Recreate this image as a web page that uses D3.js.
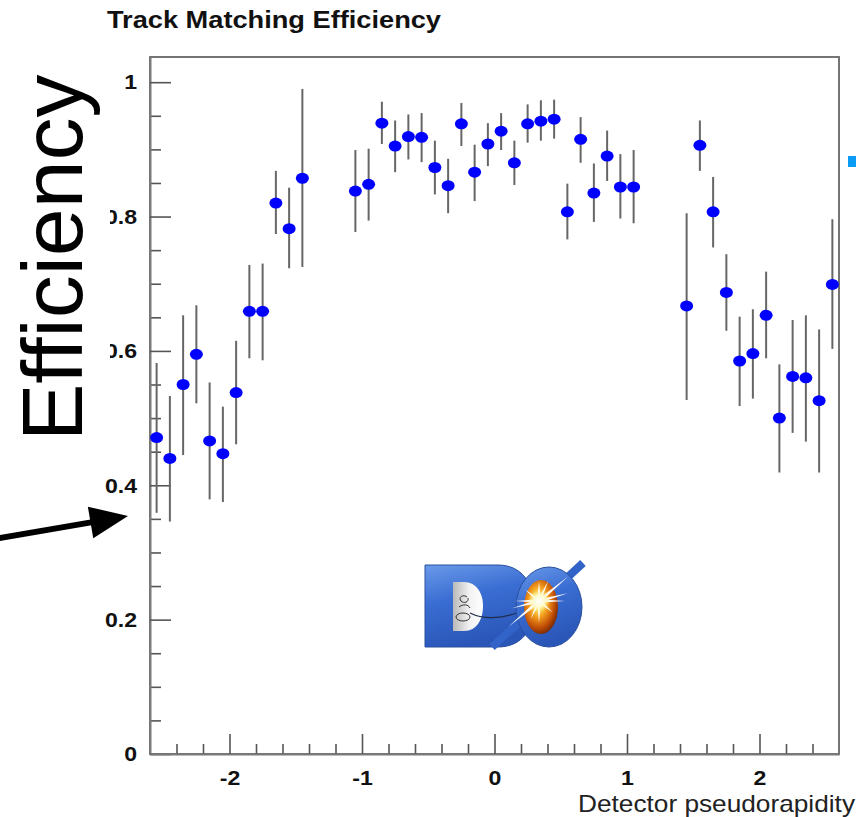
<!DOCTYPE html>
<html>
<head>
<meta charset="utf-8">
<script src="https://cdn.jsdelivr.net/npm/d3@7"></script>
<style>
  html, body { margin: 0; padding: 0; background: #fff; }
  svg { display: block; }
  text { font-family: "Liberation Sans", Arial, Helvetica, sans-serif; }
</style>
</head>
<body>
<svg id="chart" width="865" height="817"></svg>
<script>
// Track matching efficiency per detector pseudorapidity bin (bin width 0.1)
const eta = [
  -2.55, -2.45, -2.35, -2.25, -2.15, -2.05, -1.95, -1.85, -1.75, -1.65, -1.55, -1.45,
  -1.05, -0.95, -0.85, -0.75, -0.65, -0.55, -0.45, -0.35, -0.25, -0.15, -0.05,
   0.05,  0.15,  0.25,  0.35,  0.45,  0.55,  0.65,  0.75,  0.85,  0.95,  1.05,
   1.45,  1.55,  1.65,  1.75,  1.85,  1.95,  2.05,  2.15,  2.25,  2.35,  2.45,  2.55
];
const efficiency = [
  0.471, 0.440, 0.550, 0.595, 0.466, 0.447, 0.538, 0.659, 0.659, 0.820, 0.782, 0.857,
  0.838, 0.848, 0.939, 0.905, 0.919, 0.918, 0.873, 0.846, 0.938, 0.866, 0.908,
  0.927, 0.880, 0.938, 0.942, 0.945, 0.807, 0.915, 0.835, 0.890, 0.844, 0.844,
  0.667, 0.906, 0.807, 0.687, 0.585, 0.596, 0.653, 0.500, 0.562, 0.560, 0.526, 0.699
];
// lower / upper ends of the error bars
const errLow = [
  0.359, 0.346, 0.445, 0.522, 0.379, 0.375, 0.461, 0.589, 0.586, 0.774, 0.723, 0.725,
  0.777, 0.794, 0.908, 0.866, 0.885, 0.881, 0.833, 0.805, 0.905, 0.823, 0.875,
  0.899, 0.847, 0.910, 0.913, 0.916, 0.766, 0.880, 0.792, 0.853, 0.797, 0.790,
  0.527, 0.868, 0.754, 0.630, 0.518, 0.529, 0.589, 0.419, 0.478, 0.465, 0.419, 0.603
];
const errHigh = [
  0.582, 0.533, 0.653, 0.668, 0.553, 0.517, 0.615, 0.728, 0.730, 0.868, 0.843, 0.990,
  0.899, 0.901, 0.971, 0.943, 0.952, 0.954, 0.913, 0.886, 0.969, 0.907, 0.939,
  0.954, 0.913, 0.967, 0.973, 0.974, 0.849, 0.948, 0.879, 0.928, 0.893, 0.899,
  0.805, 0.943, 0.859, 0.744, 0.651, 0.662, 0.718, 0.580, 0.646, 0.653, 0.632, 0.796
];

const yTicks = [0, 0.2, 0.4, 0.6, 0.8, 1];
const yTickLabels = ["0", "0.2", "0.4", "0.6", "0.8", "1"];
const xTicks = [-2, -1, 0, 1, 2];
const xTickLabels = ["-2", "-1", "0", "1", "2"];

const titleText = "Track Matching Efficiency";
const xTitle = "Detector pseudorapidity";
const yTitle = "Efficiency";

const svg = d3.select("#chart");

const x = d3.scaleLinear().domain([-2.6, 2.6]).range([150, 839]);
const y = d3.scaleLinear().domain([0, 1.0375]).range([754, 57]);

const yMinor = d3.range(0, 1.0376, 0.05).filter(v => Math.abs(v * 5 - Math.round(v * 5)) > 1e-6);
const xMinor = d3.range(-2.4, 2.41, 0.2).filter(v => Math.abs(v - Math.round(v)) > 1e-6);

// widen text horizontally (the original typeface runs wide)
function widen(sel, k) {
  sel.each(function () {
    const w = this.getComputedTextLength();
    d3.select(this).attr("textLength", w * k).attr("lengthAdjust", "spacingAndGlyphs");
  });
}

// ---------- DØ logo ----------
const defs = svg.append("defs");
const gBlue = defs.append("linearGradient").attr("id", "logoBlue")
  .attr("x1", 0).attr("y1", 0).attr("x2", 0.3).attr("y2", 1);
gBlue.append("stop").attr("offset", 0).attr("stop-color", "#6a9aea");
gBlue.append("stop").attr("offset", 0.45).attr("stop-color", "#3a6dd2");
gBlue.append("stop").attr("offset", 1).attr("stop-color", "#2a56b8");
const gHole = defs.append("linearGradient").attr("id", "holeGrad")
  .attr("x1", 0).attr("y1", 0).attr("x2", 1).attr("y2", 0);
gHole.append("stop").attr("offset", 0).attr("stop-color", "#b9b9b9");
gHole.append("stop").attr("offset", 0.55).attr("stop-color", "#f2f2f2");
gHole.append("stop").attr("offset", 1).attr("stop-color", "#ffffff");
const gCore = defs.append("radialGradient").attr("id", "coreGrad")
  .attr("cx", 0.42).attr("cy", 0.4).attr("r", 0.65);
gCore.append("stop").attr("offset", 0).attr("stop-color", "#ffffff");
gCore.append("stop").attr("offset", 0.18).attr("stop-color", "#fff06a");
gCore.append("stop").attr("offset", 0.45).attr("stop-color", "#f29a1c");
gCore.append("stop").attr("offset", 0.75).attr("stop-color", "#c04e06");
gCore.append("stop").attr("offset", 1).attr("stop-color", "#6a2200");
const gGlow = defs.append("radialGradient").attr("id", "glowGrad");
gGlow.append("stop").attr("offset", 0).attr("stop-color", "#ffffff").attr("stop-opacity", 1);
gGlow.append("stop").attr("offset", 0.5).attr("stop-color", "#fffbd0").attr("stop-opacity", 0.9);
gGlow.append("stop").attr("offset", 1).attr("stop-color", "#ffe880").attr("stop-opacity", 0);

const logo = svg.append("g").attr("class", "logo");
logo.append("path")
  .attr("d", "M425,565 H498 C522,565 534,584 534,606 C534,629 522,647 498,647 H425 Z")
  .attr("fill", "url(#logoBlue)").attr("stroke", "#2b4f9e").attr("stroke-width", 1);
logo.append("path")
  .attr("d", "M453,582 H464 C477,582 483,594 483,606 C483,619 477,631 464,631 H453 Z")
  .attr("fill", "url(#holeGrad)");
logo.append("path")
  .attr("d", "M467,597 c-4,-3 -9,0 -6,4 c3,3 8,1 7,-3 M459,607 c4,-3 9,-3 11,1 M456,617 a7,4 0 1,0 14,0 a7,4 0 1,0 -14,0")
  .attr("fill", "none").attr("stroke", "#333").attr("stroke-width", 1);
logo.append("path")
  .attr("d", "M470,613 C486,621 506,619 532,607")
  .attr("fill", "none").attr("stroke", "#1d2a4a").attr("stroke-width", 1.2);
logo.append("line")
  .attr("x1", 492).attr("y1", 647).attr("x2", 583).attr("y2", 563)
  .attr("stroke", "#3163c8").attr("stroke-width", 8);
logo.append("ellipse")
  .attr("cx", 549).attr("cy", 607).attr("rx", 33).attr("ry", 40)
  .attr("fill", "url(#logoBlue)").attr("stroke", "#2b4f9e").attr("stroke-width", 1);
logo.append("ellipse")
  .attr("cx", 541).attr("cy", 607).attr("rx", 17).attr("ry", 27)
  .attr("fill", "url(#coreGrad)");
// star burst rays: [angle in degrees, length]
const rays = [[-40, 38], [140, 40], [0, 26], [180, 24], [-90, 20], [90, 22], [-65, 22], [115, 20], [-15, 30], [165, 28], [40, 18], [-140, 18]];
const cx0 = 539, cy0 = 601;
logo.selectAll("path.ray").data(rays).join("path").attr("class", "ray")
  .attr("d", d => {
    const a = d[0] * Math.PI / 180, L = d[1], w = 1.8;
    const ex = cx0 + L * Math.cos(a), ey = cy0 + L * Math.sin(a);
    const nx = -Math.sin(a) * w, ny = Math.cos(a) * w;
    return `M${cx0 + nx},${cy0 + ny} L${ex},${ey} L${cx0 - nx},${cy0 - ny} Z`;
  })
  .attr("fill", "#ffffff").attr("opacity", 0.95);
logo.append("circle").attr("cx", cx0).attr("cy", cy0).attr("r", 11).attr("fill", "url(#glowGrad)");

// ---------- plot frame ----------
svg.append("rect")
  .attr("x", x(-2.6)).attr("y", y(1.0375))
  .attr("width", x(2.6) - x(-2.6)).attr("height", y(0) - y(1.0375))
  .attr("fill", "none").attr("stroke", "#666").attr("stroke-width", 1.8);

// ---------- axes ----------
function styleAxis(g) {
  g.select(".domain").attr("stroke", "#7a7a7a").attr("stroke-width", 2);
  g.selectAll(".tick line").attr("stroke", "#555").attr("stroke-width", 1.6);
}

const yAxisMinor = svg.append("g").attr("transform", `translate(${x(-2.6)},0)`)
  .call(d3.axisLeft(y).tickValues(yMinor).tickSize(-11).tickSizeOuter(0).tickFormat(""));
yAxisMinor.select(".domain").remove();
yAxisMinor.selectAll(".tick line").attr("stroke", "#555").attr("stroke-width", 1.6);

const xAxisMinor = svg.append("g").attr("transform", `translate(0,${y(0)})`)
  .call(d3.axisBottom(x).tickValues(xMinor).tickSize(-10).tickSizeOuter(0).tickFormat(""));
xAxisMinor.select(".domain").remove();
xAxisMinor.selectAll(".tick line").attr("stroke", "#555").attr("stroke-width", 1.6);

const yAxis = svg.append("g").attr("transform", `translate(${x(-2.6)},0)`)
  .call(d3.axisLeft(y).tickValues(yTicks).tickSize(-21).tickSizeOuter(0).tickPadding(13)
    .tickFormat((d, i) => yTickLabels[i]));
styleAxis(yAxis);
yAxis.selectAll(".tick text")
  .attr("font-family", "'Liberation Sans', Arial, sans-serif")
  .attr("font-size", 21).attr("font-weight", "bold").attr("fill", "#111")
  .call(widen, 1.1);

const xAxis = svg.append("g").attr("transform", `translate(0,${y(0)})`)
  .call(d3.axisBottom(x).tickValues(xTicks).tickSize(-20).tickSizeOuter(0).tickPadding(16)
    .tickFormat((d, i) => xTickLabels[i]));
styleAxis(xAxis);
xAxis.selectAll(".tick text")
  .attr("font-family", "'Liberation Sans', Arial, sans-serif")
  .attr("font-size", 21).attr("font-weight", "bold").attr("fill", "#111")
  .call(widen, 1.1);

// ---------- data: error bars and markers ----------
const pts = eta.map((e, i) => ({ eta: e, eff: efficiency[i], lo: errLow[i], hi: errHigh[i] }));

svg.append("g").attr("class", "errors")
  .selectAll("line").data(pts).join("line")
  .attr("x1", d => x(d.eta)).attr("x2", d => x(d.eta))
  .attr("y1", d => y(d.lo)).attr("y2", d => y(d.hi))
  .attr("stroke", "#666").attr("stroke-width", 2);

svg.append("g").attr("class", "markers")
  .selectAll("ellipse").data(pts).join("ellipse")
  .attr("cx", d => x(d.eta)).attr("cy", d => y(d.eff))
  .attr("rx", 6.5).attr("ry", 5.5)
  .attr("fill", "#0000ff");

// ---------- titles ----------
svg.append("text")
  .attr("x", 107).attr("y", 28)
  .attr("font-size", 24.5).attr("font-weight", "bold").attr("fill", "#111")
  .attr("textLength", 334).attr("lengthAdjust", "spacingAndGlyphs")
  .text(titleText);

svg.append("text")
  .attr("x", 855).attr("y", 811.5).attr("text-anchor", "end")
  .attr("font-size", 24).attr("fill", "#222")
  .attr("textLength", 277).attr("lengthAdjust", "spacingAndGlyphs")
  .text(xTitle);

// large vertical axis title on a white backing
svg.append("rect").attr("x", 0).attr("y", 40).attr("width", 110).attr("height", 425).attr("fill", "#fff");
svg.append("text")
  .attr("transform", "translate(82,441) rotate(-90)")
  .attr("font-size", 86).attr("fill", "#000")
  .text(yTitle);

// pointer arrow toward the low-efficiency edge
const tip = [128, 516], tail = [-6, 539];
const ux = (tip[0] - tail[0]), uy = (tip[1] - tail[1]);
const ul = Math.hypot(ux, uy), u = [ux / ul, uy / ul], n = [-u[1], u[0]];
const headLen = 38, headHalf = 16;
const base = [tip[0] - headLen * u[0], tip[1] - headLen * u[1]];
svg.append("line")
  .attr("x1", tail[0]).attr("y1", tail[1]).attr("x2", base[0] + 2 * u[0]).attr("y2", base[1] + 2 * u[1])
  .attr("stroke", "#000").attr("stroke-width", 6);
svg.append("path")
  .attr("d", `M${tip[0]},${tip[1]} L${base[0] + headHalf * n[0]},${base[1] + headHalf * n[1]} L${base[0] - headHalf * n[0]},${base[1] - headHalf * n[1]} Z`)
  .attr("fill", "#000");

// small blue marker at the right margin
svg.append("rect").attr("x", 848).attr("y", 156).attr("width", 8).attr("height", 11).attr("fill", "#0a9cf5");
</script>
</body>
</html>
